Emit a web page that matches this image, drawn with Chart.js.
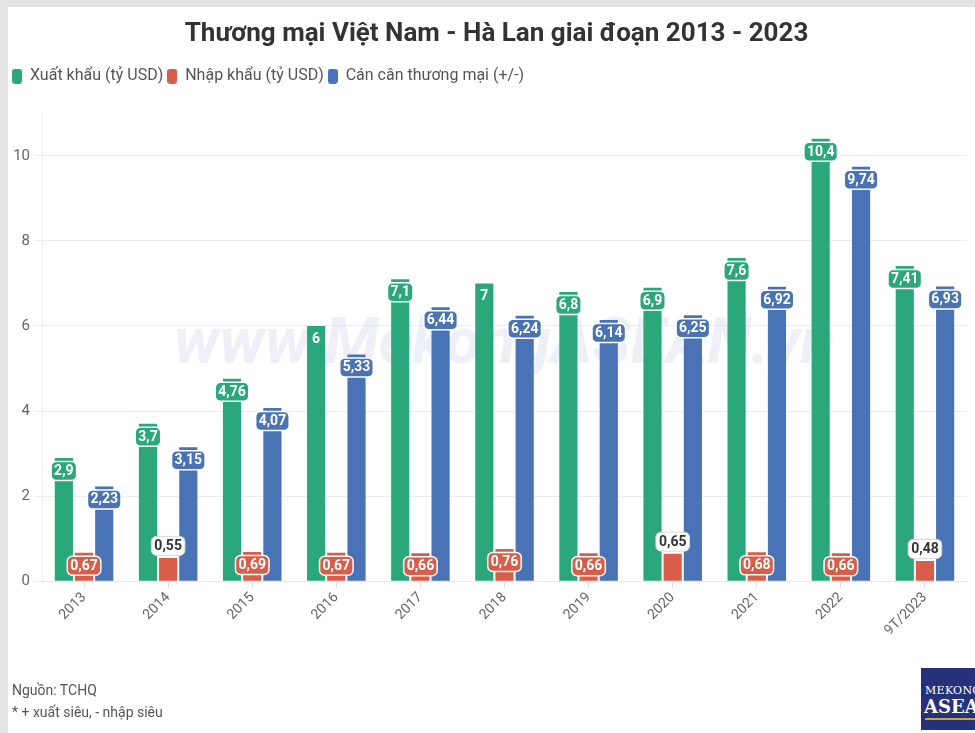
<!DOCTYPE html>
<html lang="vi">
<head>
<meta charset="utf-8">
<title>Thương mại Việt Nam - Hà Lan giai đoạn 2013 - 2023</title>
<script src="https://cdn.jsdelivr.net/npm/chart.js@4.4.1/dist/chart.umd.min.js"></script>
<style>
  html, body { margin: 0; padding: 0; }
  body { width: 975px; height: 733px; background: #e3e3e3; position: relative; overflow: hidden; font-family: Roboto, "Noto Sans", sans-serif; }
  #khung { position: absolute; left: 8px; top: 7px; width: 967px; height: 726px; background: #fff; }
  #bieudo { position: absolute; left: 0; top: 0; width: 967px; height: 726px; }
  .ghichu { position: absolute; left: 4px; font-size: 14px; color: #555; }
  #logo { position: absolute; left: 913px; top: 661px; width: 60px; height: 62px; background: #27317a; color: #fff; font-family: "DejaVu Serif", "Liberation Serif", serif; overflow: hidden; }
  #logo .a { position: absolute; left: 4px; top: 16px; font-size: 11px; letter-spacing: 0.3px; }
  #logo .b { position: absolute; left: 3px; top: 28px; font-size: 18px; font-weight: bold; }
  #logo .c { position: absolute; left: 4px; top: 50px; width: 56px; height: 2px; background: #c9a53a; }
</style>
</head>
<body>
<div id="khung">
  <div id="bieudo"><canvas id="cv"></canvas></div>
  <div class="ghichu" style="top: 675px;">Nguồn: TCHQ</div>
  <div class="ghichu" style="top: 697px;">* + xuất siêu, - nhập siêu</div>
  <div id="logo"><div class="a">MEKONG</div><div class="b">ASEAN</div><div class="c"></div></div>
</div>
<script>
// so lieu doc tu hinh (ty USD)
const namLabels = ['2013', '2014', '2015', '2016', '2017', '2018', '2019', '2020', '2021', '2022', '9T/2023'];
const xuatKhau = [2.9, 3.7, 4.76, 6, 7.1, 7, 6.8, 6.9, 7.6, 10.4, 7.41];
const nhapKhau = [0.67, 0.55, 0.69, 0.67, 0.66, 0.76, 0.66, 0.65, 0.68, 0.66, 0.48];
const canCan = [2.23, 3.15, 4.07, 5.33, 6.44, 6.24, 6.14, 6.25, 6.92, 9.74, 6.93];
const yTicks = [0, 2, 4, 6, 8, 10];

const XANH = '#2aa87c', DO = '#d85e4a', LAM = '#4a73b6';

function oMau(color) {
  const c = document.createElement('canvas');
  c.width = 10; c.height = 15;
  const g = c.getContext('2d');
  g.fillStyle = color;
  g.beginPath(); g.roundRect(0, 0, 10, 15, 3); g.fill();
  return c;
}

function soVN(v) { return String(v).replace('.', ','); }

// them khoang trong duoi chu giai, day tieu de sang phai mot chut
const legendGap = {
  id: 'legendGap',
  beforeInit(chart) {
    const fitCu = chart.legend.fit;
    chart.legend.fit = function () {
      fitCu.call(this);
      this.height += 19;
    };
  },
  afterLayout(chart) {
    chart.titleBlock.left += 18;
  }
};

// chu mo o giua vung ve
const watermark = {
  id: 'watermark',
  beforeDatasetsDraw(chart) {
    const a = chart.chartArea, ctx = chart.ctx;
    ctx.save();
    ctx.font = 'italic bold 64px Roboto';
    ctx.fillStyle = 'rgba(214,218,234,0.4)';
    ctx.textAlign = 'center'; ctx.textBaseline = 'middle';
    ctx.fillText('www.MekongASEAN.vn', (a.left + a.right) / 2, (a.top + a.bottom) / 2);
    ctx.restore();
  }
};

// nhan gia tri tren cot
const nhanCot = {
  id: 'nhanCot',
  afterDatasetsDraw(chart) {
    const ctx = chart.ctx;
    ctx.save();
    ctx.font = 'bold 14px Roboto';
    ctx.textAlign = 'center';
    ctx.textBaseline = 'middle';
    chart.data.datasets.forEach(function (ds, i) {
      chart.getDatasetMeta(i).data.forEach(function (bar, j) {
        const v = ds.data[j], txt = soVN(v);
        const w = ctx.measureText(txt).width + 6, h = 19;
        const ngoai = v < 0.655;
        const cy = ngoai ? bar.y - 12 : bar.y + 13;
        if (ngoai) {
          ctx.beginPath(); ctx.roundRect(bar.x - w / 2, cy - h / 2, w, h, 5);
          ctx.fillStyle = '#fff'; ctx.fill();
          ctx.lineWidth = 1; ctx.strokeStyle = '#d8d8d8'; ctx.stroke();
          ctx.fillStyle = '#333';
        } else {
          if (w > bar.width + 1) {
            ctx.beginPath(); ctx.roundRect(bar.x - w / 2, cy - h / 2, w, h, 5);
            ctx.fillStyle = ds.backgroundColor; ctx.fill();
            ctx.lineWidth = 1.5; ctx.strokeStyle = '#fff'; ctx.stroke();
          }
          ctx.fillStyle = '#fff';
        }
        ctx.fillText(txt, bar.x, cy + 0.5);
      });
    });
    ctx.restore();
  }
};

new Chart(document.getElementById('cv'), {
  type: 'bar',
  data: {
    labels: namLabels,
    datasets: [
      { label: 'Xuất khẩu (tỷ USD)', data: xuatKhau, backgroundColor: XANH, pointStyle: oMau(XANH) },
      { label: 'Nhập khẩu (tỷ USD)', data: nhapKhau, backgroundColor: DO, pointStyle: oMau(DO) },
      { label: 'Cán cân thương mại (+/-)', data: canCan, backgroundColor: LAM, pointStyle: oMau(LAM) }
    ]
  },
  options: {
    responsive: true,
    maintainAspectRatio: false,
    animation: false,
    categoryPercentage: 0.72,
    barPercentage: 0.9,
    layout: { padding: { left: 0, right: 8, top: 0, bottom: 92 } },
    plugins: {
      title: {
        display: true,
        text: 'Thương mại Việt Nam - Hà Lan giai đoạn 2013 - 2023',
        color: '#333',
        font: { family: 'Roboto', size: 26, weight: 'bold' },
        padding: { top: 12, bottom: 14 }
      },
      legend: {
        align: 'start',
        labels: {
          usePointStyle: true,
          pointStyleWidth: 10,
          padding: 4,
          color: '#555',
          font: { family: 'Roboto', size: 16 }
        }
      },
      tooltip: { enabled: false }
    },
    scales: {
      x: {
        grid: { display: true, drawOnChartArea: false, offset: false, tickLength: 6, color: '#ddd' },
        border: { color: '#e6e6e6' },
        ticks: { color: '#666', font: { family: 'Roboto', size: 14 }, minRotation: 45, maxRotation: 45, padding: 2 }
      },
      y: {
        min: 0,
        max: 11,
        afterBuildTicks: function (s) { s.ticks = yTicks.map(function (v) { return { value: v }; }); },
        afterFit: function (s) { s.width = 34; },
        grid: { color: '#ececec', tickLength: 8 },
        border: { color: '#ececec' },
        ticks: { color: '#666', font: { family: 'Roboto', size: 15 }, padding: 4 }
      }
    }
  },
  plugins: [legendGap, watermark, nhanCot]
});
</script>
</body>
</html>
